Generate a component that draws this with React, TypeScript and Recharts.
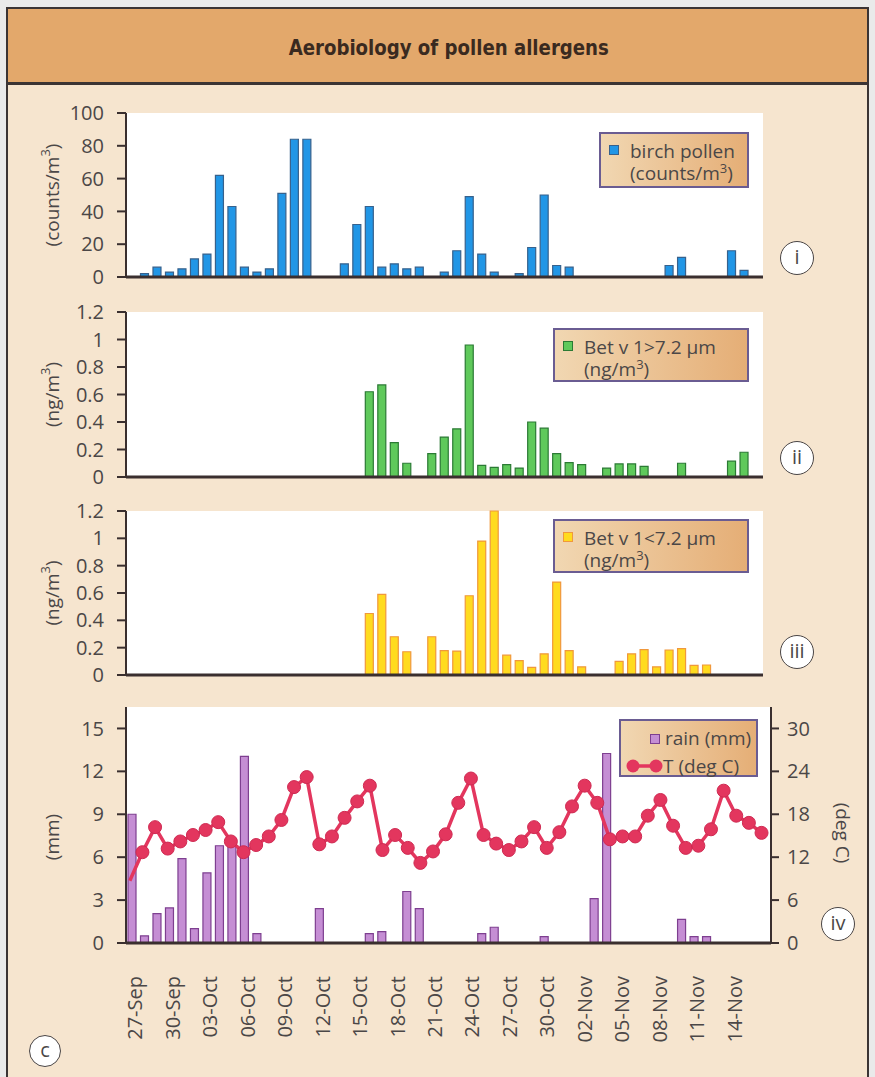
import React from 'react';
import { ComposedChart, Bar, Line, XAxis, YAxis, CartesianGrid } from 'recharts';

const FONT = '"Open Sans", "Noto Sans", "Liberation Sans", sans-serif';
const TITLE_FONT = '"DejaVu Sans Condensed", "Liberation Sans", sans-serif';
const TEXT = '#4b4747';
const AXIS = '#3a2f2f';
const TEMP_COLOR = '#e3365e';

// one entry per sampling day
const days = [
  '27-Sep', '28-Sep', '29-Sep', '30-Sep',
  '01-Oct', '02-Oct', '03-Oct', '04-Oct', '05-Oct', '06-Oct', '07-Oct', '08-Oct', '09-Oct', '10-Oct',
  '11-Oct', '12-Oct', '13-Oct', '14-Oct', '15-Oct', '16-Oct', '17-Oct', '18-Oct', '19-Oct', '20-Oct',
  '21-Oct', '22-Oct', '23-Oct', '24-Oct', '25-Oct', '26-Oct', '27-Oct', '28-Oct', '29-Oct', '30-Oct', '31-Oct',
  '01-Nov', '02-Nov', '03-Nov', '04-Nov', '05-Nov', '06-Nov', '07-Nov', '08-Nov', '09-Nov', '10-Nov',
  '11-Nov', '12-Nov', '13-Nov', '14-Nov', '15-Nov', '16-Nov',
];

// (i) birch pollen, counts/m3
const birchPollen = [
  null, 2, 6, 3, 5, 11, 14, 62, 43, 6, 3, 5, 51, 84, 84, null, null, 8, 32, 43, 6, 8, 5, 6,
  null, 3, 16, 49, 14, 3, null, 2, 18, 50, 7, 6, null, null, null, null, null, null, null,
  7, 12, null, null, null, 16, 4, null,
];

// (ii) Bet v 1 on particles > 7.2 um, ng/m3
const betV1Coarse = [
  null, null, null, null, null, null, null, null, null, null, null, null, null, null, null, null, null, null, null,
  0.62, 0.67, 0.25, 0.1, null, 0.17, 0.29, 0.35, 0.96, 0.085, 0.07, 0.09, 0.065, 0.4, 0.355, 0.17, 0.105, 0.09,
  null, 0.065, 0.095, 0.095, 0.078, null, null, 0.1, null, null, null, 0.115, 0.18, null,
];

// (iii) Bet v 1 on particles < 7.2 um, ng/m3
const betV1Fine = [
  null, null, null, null, null, null, null, null, null, null, null, null, null, null, null, null, null, null, null,
  0.45, 0.59, 0.28, 0.17, null, 0.28, 0.178, 0.175, 0.58, 0.98, 1.2, 0.145, 0.105, 0.056, 0.155, 0.68, 0.178, 0.06,
  null, null, 0.1, 0.155, 0.185, 0.06, 0.183, 0.193, 0.07, 0.073, null, null, null, null,
];

// (iv) daily rain, mm
const rainMm = [
  9.0, 0.5, 2.05, 2.45, 5.9, 1.0, 4.9, 6.8, 6.9, 13.05, 0.65, null, null, null, null, 2.4, null, null, null,
  0.65, 0.8, null, 3.6, 2.4, null, null, null, null, 0.65, 1.1, null, null, null, 0.45, null, null, null,
  3.1, 13.25, null, null, null, null, null, 1.65, 0.45, 0.45, null, null, null, null,
];

// (iv) daily mean temperature, deg C
const temperatureC = [
  8.7, 12.7, 16.2, 13.2, 14.2, 15.1, 15.8, 16.9, 14.2, 12.7,
  13.7, 14.9, 17.2, 21.8, 23.2, 13.8, 14.9, 17.5, 19.8, 22.0,
  13.0, 15.1, 13.3, 11.2, 12.8, 15.2, 19.6, 23.0, 15.1, 13.9,
  13.0, 14.2, 16.2, 13.3, 15.5, 19.1, 22.0, 19.6, 14.5, 14.9,
  14.9, 17.8, 20.0, 16.4, 13.3, 13.6, 15.9, 21.3, 17.8, 16.8,
  15.4,
];

const countTicks = [0, 20, 40, 60, 80, 100];
const ngTicks = [0, 0.2, 0.4, 0.6, 0.8, 1, 1.2];
const rainTicks = [0, 3, 6, 9, 12, 15];
const tempTicks = [0, 6, 12, 18, 24, 30];

const rows = days.map((day, i) => ({
  i,
  day,
  birch: birchPollen[i],
  coarse: betV1Coarse[i],
  fine: betV1Fine[i],
  rain: rainMm[i],
  temp: temperatureC[i],
}));

// tick marks sit between days; date labels on every third day
const dayBoundaries = days.map((_, i) => i - 0.5).concat(days.length - 0.5);
const labelledDays = days.map((_, i) => i).filter((i) => i % 3 === 0);

function axisTitle(x: number, parts: string[], angle = -90, shift = 0) {
  return (props: any) => {
    const vb = props.viewBox || {};
    const cy = (vb.y ?? 0) + (vb.height ?? 0) / 2 + shift;
    return (
      <text
        x={x}
        y={cy}
        transform={`rotate(${angle}, ${x}, ${cy})`}
        textAnchor="middle"
        dominantBaseline="central"
        fontSize={19}
        fill={TEXT}
      >
        <tspan>{parts[0]}</tspan>
        {parts[1] ? <tspan dy={-7} fontSize={13}>{parts[1]}</tspan> : null}
        {parts[1] ? <tspan dy={7}>{parts[2]}</tspan> : null}
      </text>
    );
  };
}

const DateTick = (props: any) => {
  const { x, y, payload } = props;
  return (
    <text x={x} y={y} transform={`rotate(-90, ${x}, ${y})`} textAnchor="end" dy={10} fontSize={20} fill={TEXT}>
      {days[payload.value]}
    </text>
  );
};

const TempDot = (props: any) => {
  const { cx, cy, index } = props;
  if (index === 0 || cx == null || cy == null) return <g key={`td-${index}`} />;
  return <circle key={`td-${index}`} cx={cx} cy={cy} r={6.5} fill={TEMP_COLOR} stroke="#cf2a52" strokeWidth={1} />;
};

const axisLineX = { stroke: AXIS, strokeWidth: 3 };
const axisLineY = { stroke: AXIS, strokeWidth: 2 };
const tickLineStyle = { stroke: AXIS, strokeWidth: 2 };
const tickText = { fontSize: 20, fill: TEXT };

type PanelProps = {
  top: number;
  height: number;
  marginTop: number;
  dataKey: string;
  domain: [number, number];
  ticks: number[];
  fill: string;
  stroke: string;
  title: string[];
};

function PollenPanel({ top, height, marginTop, dataKey, domain, ticks, fill, stroke, title }: PanelProps) {
  return (
    <div style={{ position: 'absolute', left: 0, top }}>
      <ComposedChart width={875} height={height} data={rows} margin={{ top: marginTop, right: 112, bottom: 0, left: 46 }}>
        <CartesianGrid fill="#ffffff" stroke="none" horizontal={false} vertical={false} />
        <XAxis
          dataKey="i"
          type="number"
          domain={[-0.5, 50.5]}
          ticks={dayBoundaries}
          interval={0}
          tick={false}
          tickSize={10}
          height={12}
          axisLine={axisLineX}
          tickLine={tickLineStyle}
        />
        <YAxis
          width={80}
          domain={domain}
          ticks={ticks}
          interval={0}
          tickSize={9}
          tickMargin={13}
          tick={tickText}
          axisLine={axisLineY}
          tickLine={tickLineStyle}
          label={axisTitle(52, title)}
        />
        <Bar dataKey={dataKey} fill={fill} stroke={stroke} strokeWidth={1.2} barSize={8} isAnimationActive={false} />
      </ComposedChart>
    </div>
  );
}

function WeatherPanel() {
  return (
    <div style={{ position: 'absolute', left: 0, top: 685 }}>
      <ComposedChart width={875} height={370} data={rows} margin={{ top: 22, right: 44, bottom: 0, left: 46 }}>
        <CartesianGrid xAxisId="bars" yAxisId="mm" fill="#ffffff" stroke="none" horizontal={false} vertical={false} />
        <XAxis
          xAxisId="bars"
          dataKey="i"
          type="number"
          domain={[-0.5, 50.5]}
          padding={{ left: 0, right: 8 }}
          ticks={dayBoundaries}
          interval={0}
          tick={false}
          tickSize={10}
          height={12}
          axisLine={axisLineX}
          tickLine={tickLineStyle}
        />
        <XAxis
          xAxisId="dates"
          dataKey="i"
          type="number"
          domain={[-0.5, 50.5]}
          padding={{ left: 0, right: 8 }}
          ticks={labelledDays}
          interval={0}
          tick={<DateTick />}
          tickSize={0}
          tickMargin={21}
          height={100}
          axisLine={false}
          tickLine={false}
        />
        <XAxis xAxisId="temp" dataKey="i" type="number" domain={[-0.3, 50.75]} hide />
        <YAxis
          yAxisId="mm"
          orientation="left"
          width={80}
          domain={[0, 16.5]}
          ticks={rainTicks}
          interval={0}
          tickSize={9}
          tickMargin={13}
          tick={tickText}
          axisLine={axisLineY}
          tickLine={tickLineStyle}
          label={axisTitle(52, ['(mm)'], -90, 12)}
        />
        <YAxis
          yAxisId="t"
          orientation="right"
          width={60}
          domain={[0, 33]}
          ticks={tempTicks}
          interval={0}
          tickSize={8}
          tickMargin={8}
          tick={tickText}
          axisLine={axisLineY}
          tickLine={tickLineStyle}
          label={axisTitle(843, ['(deg C)'], 90, 8)}
        />
        <Bar
          xAxisId="bars"
          yAxisId="mm"
          dataKey="rain"
          fill="#c58ed4"
          stroke="#7e3f90"
          strokeWidth={1.2}
          barSize={8}
          isAnimationActive={false}
        />
        <Line
          xAxisId="temp"
          yAxisId="t"
          dataKey="temp"
          stroke={TEMP_COLOR}
          strokeWidth={3.5}
          dot={TempDot}
          activeDot={false}
          isAnimationActive={false}
        />
      </ComposedChart>
    </div>
  );
}

const legendBox = (left: number, top: number, width: number, height: number): React.CSSProperties => ({
  position: 'absolute',
  left,
  top,
  width,
  height,
  boxSizing: 'border-box',
  border: '2px solid #6a5c92',
  background: 'linear-gradient(to right, #f1d7b2, #e5ae76)',
  color: TEXT,
  fontSize: 19,
  lineHeight: '22px',
});

const swatch = (left: number, top: number, fill: string, stroke: string): React.CSSProperties => ({
  position: 'absolute',
  left,
  top,
  width: 10,
  height: 10,
  boxSizing: 'border-box',
  background: fill,
  border: `1.5px solid ${stroke}`,
});

function BarLegend({ left, top, width, height, fill, stroke, line1, unit }: any) {
  return (
    <div style={legendBox(left, top, width, height)}>
      <div style={swatch(8, 11, fill, stroke)} />
      <div style={{ position: 'absolute', left: 29, top: 6, whiteSpace: 'nowrap' }}>
        <div>{line1}</div>
        <div>
          ({unit}/m<sup style={{ fontSize: 13, lineHeight: 0 }}>3</sup>)
        </div>
      </div>
    </div>
  );
}

function PanelTag({ cx, cy, r, text }: { cx: number; cy: number; r: number; text: string }) {
  return (
    <div
      style={{
        position: 'absolute',
        left: cx - r,
        top: cy - r,
        width: r * 2,
        height: r * 2,
        boxSizing: 'border-box',
        border: '1.5px solid #4a4545',
        borderRadius: '50%',
        background: '#ffffff',
        color: TEXT,
        fontSize: 20,
        lineHeight: `${r * 2 - 4}px`,
        textAlign: 'center',
      }}
    >
      {text}
    </div>
  );
}

export default function App() {
  return (
    <div
      style={{
        position: 'absolute',
        left: 0,
        top: 0,
        width: 875,
        height: 1077,
        overflow: 'hidden',
        background: '#eaeaea',
        fontFamily: FONT,
      }}
    >
      <div
        style={{
          position: 'absolute',
          left: 6,
          top: 7,
          width: 863,
          height: 1090,
          boxSizing: 'border-box',
          border: '2px solid #3b3434',
          background: '#f6e5cf',
        }}
      />
      <div
        style={{
          position: 'absolute',
          left: 6,
          top: 7,
          width: 863,
          height: 78,
          boxSizing: 'border-box',
          border: '2px solid #3b3434',
          borderBottomWidth: 3,
          background: '#e3a86b',
          display: 'flex',
          alignItems: 'center',
          justifyContent: 'center',
          paddingTop: 4,
          paddingLeft: 22,
          fontFamily: TITLE_FONT,
          fontWeight: 700,
          fontSize: 21,
          color: '#3a2a1f',
        }}
      >
        <span style={{ display: 'inline-block', transform: 'scaleX(0.96)' }}>Aerobiology of pollen allergens</span>
      </div>

      <PollenPanel
        top={90}
        height={199}
        marginTop={23}
        dataKey="birch"
        domain={[0, 100]}
        ticks={countTicks}
        fill="#2196e6"
        stroke="#37618c"
        title={['(counts/m', '3', ')']}
      />
      <PollenPanel
        top={290}
        height={199}
        marginTop={22}
        dataKey="coarse"
        domain={[0, 1.2]}
        ticks={ngTicks}
        fill="#5fc95b"
        stroke="#2b7a34"
        title={['(ng/m', '3', ')']}
      />
      <PollenPanel
        top={490}
        height={197}
        marginTop={21}
        dataKey="fine"
        domain={[0, 1.2]}
        ticks={ngTicks}
        fill="#ffdb1f"
        stroke="#f0983c"
        title={['(ng/m', '3', ')']}
      />
      <WeatherPanel />

      <BarLegend left={599} top={132} width={150} height={56} fill="#2196e6" stroke="#37618c" line1="birch pollen" unit="counts" />
      <BarLegend left={553} top={328} width={196} height={54} fill="#5fc95b" stroke="#2b7a34" line1="Bet v 1>7.2 μm" unit="ng" />
      <BarLegend left={553} top={519} width={196} height={54} fill="#ffdb1f" stroke="#f0983c" line1={'Bet v 1<7.2 μm'} unit="ng" />

      <div style={legendBox(619, 719, 139, 58)}>
        <div style={swatch(29, 13, '#c58ed4', '#7e3f90')} />
        <div style={{ position: 'absolute', left: 44, top: 6, whiteSpace: 'nowrap' }}>rain (mm)</div>
        <svg style={{ position: 'absolute', left: 0, top: 33 }} width={45} height={24}>
          <line x1={8} y1={12} x2={40} y2={12} stroke={TEMP_COLOR} strokeWidth={3.5} />
          <circle cx={12} cy={12} r={6.5} fill={TEMP_COLOR} />
          <circle cx={35} cy={12} r={6.5} fill={TEMP_COLOR} />
        </svg>
        <div style={{ position: 'absolute', left: 42, top: 34, whiteSpace: 'nowrap' }}>T (deg C)</div>
      </div>

      <PanelTag cx={797} cy={258} r={17} text="i" />
      <PanelTag cx={797} cy={458} r={17} text="ii" />
      <PanelTag cx={797} cy={652} r={17} text="iii" />
      <PanelTag cx={838} cy={924} r={17} text="iv" />
      <PanelTag cx={45} cy={1051} r={16} text="c" />
    </div>
  );
}
